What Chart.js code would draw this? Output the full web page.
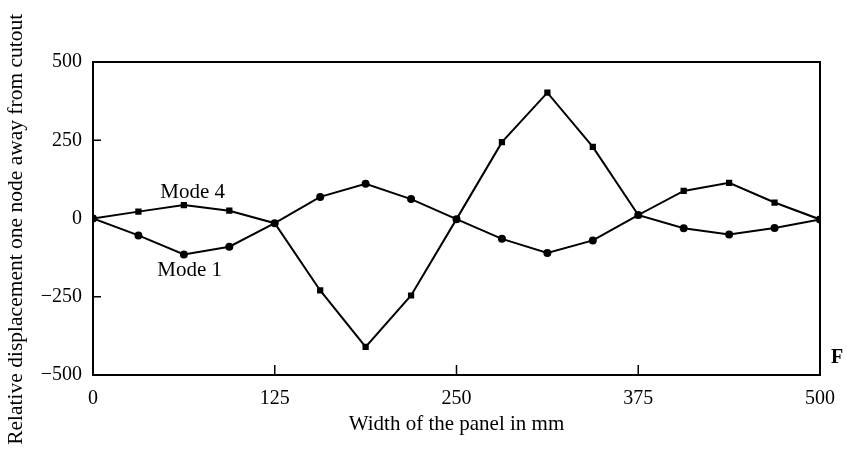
<!DOCTYPE html>
<html lang="en">
<head>
    <meta charset="UTF-8">
    <title>Relative displacement vs panel width</title>
    <script src="https://cdn.jsdelivr.net/npm/chart.js"></script>
    <style>
        body { margin: 0; background: #fff; }
        #wrap { width: 847px; height: 455px; }
    </style>
</head>
<body>
    <div id="wrap"><canvas id="modeChart" width="847" height="455"></canvas></div>

    <script>
        // positions across the panel width (mm)
        const widths = [0, 31.25, 62.5, 93.75, 125, 156.25, 187.5, 218.75, 250,
                        281.25, 312.5, 343.75, 375, 406.25, 437.5, 468.75, 500];
        const mode4 = [0, 22, 43, 25, -15, -230, -410, -246, -2, 244, 402, 229, 11, 88, 114, 51, -3];
        const mode1 = [0, -54, -115, -90, -15, 69, 111, 62, -2, -65, -110, -70, 11, -31, -51, -30, -3];

        const xTicks = [0, 125, 250, 375, 500];
        const yTicks = [500, 250, 0, -250, -500];

        // curve labels placed in data coordinates
        const curveLabels = [
            { text: 'Mode 4', x: 68.5, y: 83 },
            { text: 'Mode 1', x: 66.5, y: -165 }
        ];

        const serif = '"Liberation Serif", "DejaVu Serif", serif';

        const frameAndTicks = {
            id: 'frameAndTicks',
            afterDraw(chart) {
                const { ctx, chartArea: a, scales } = chart;
                ctx.save();
                ctx.strokeStyle = '#000';
                ctx.lineWidth = 2;
                ctx.strokeRect(a.left, a.top, a.right - a.left, a.bottom - a.top);

                // inward tick marks
                ctx.lineWidth = 1.5;
                ctx.beginPath();
                xTicks.slice(1, -1).forEach(v => {
                    const px = scales.x.getPixelForValue(v);
                    ctx.moveTo(px, a.bottom);
                    ctx.lineTo(px, a.bottom - 10);
                });
                yTicks.slice(1, -1).forEach(v => {
                    if (v === 0) return;
                    const py = scales.y.getPixelForValue(v);
                    ctx.moveTo(a.left, py);
                    ctx.lineTo(a.left + 8, py);
                });
                ctx.stroke();

                ctx.fillStyle = '#000';
                ctx.font = '21px ' + serif;
                ctx.textAlign = 'center';
                ctx.textBaseline = 'middle';
                curveLabels.forEach(l => {
                    ctx.fillText(l.text, scales.x.getPixelForValue(l.x), scales.y.getPixelForValue(l.y));
                });

                ctx.font = 'bold 20px ' + serif;
                ctx.textAlign = 'left';
                ctx.fillText('F', a.right + 11, scales.y.getPixelForValue(-445));
                ctx.restore();
            }
        };

        const ctx = document.getElementById('modeChart').getContext('2d');
        new Chart(ctx, {
            type: 'line',
            data: {
                datasets: [
                    {
                        label: 'Mode 4',
                        data: widths.map((w, i) => ({ x: w, y: mode4[i] })),
                        borderColor: '#000',
                        backgroundColor: '#000',
                        borderWidth: 2,
                        pointStyle: 'rect',
                        pointRadius: 3,
                        tension: 0
                    },
                    {
                        label: 'Mode 1',
                        data: widths.map((w, i) => ({ x: w, y: mode1[i] })),
                        borderColor: '#000',
                        backgroundColor: '#000',
                        borderWidth: 2,
                        pointStyle: 'circle',
                        pointRadius: 3,
                        tension: 0
                    }
                ]
            },
            options: {
                responsive: false,
                animation: false,
                layout: { padding: { top: 62, right: 26, left: 0, bottom: 18 } },
                plugins: {
                    legend: { display: false },
                    tooltip: { enabled: false }
                },
                scales: {
                    x: {
                        type: 'linear',
                        min: 0,
                        max: 500,
                        afterBuildTicks: s => { s.ticks = xTicks.map(v => ({ value: v })); },
                        afterFit: s => { s.height = 62; },
                        grid: { display: false, drawTicks: false },
                        border: { display: false },
                        ticks: { color: '#000', padding: 12, maxRotation: 0, font: { family: serif, size: 20 } },
                        title: {
                            display: true,
                            text: 'Width of the panel in mm',
                            color: '#000',
                            padding: { top: 4, bottom: 0 },
                            font: { family: serif, size: 21 }
                        }
                    },
                    y: {
                        min: -500,
                        max: 500,
                        afterBuildTicks: s => { s.ticks = yTicks.map(v => ({ value: v })); },
                        afterFit: s => { s.width = 93; },
                        grid: { display: false, drawTicks: false },
                        border: { display: false },
                        ticks: {
                            color: '#000',
                            padding: 11,
                            font: { family: serif, size: 20 },
                            callback: v => (v < 0 ? '\u2212' + Math.abs(v) : String(v))
                        },
                        title: {
                            display: true,
                            // trailing spaces nudge the rotated title down a little, like the original
                            text: 'Relative displacement one node away from cutout\u00a0\u00a0\u00a0\u00a0',
                            color: '#000',
                            padding: { top: 3, bottom: 0 },
                            font: { family: serif, size: 21.5 }
                        }
                    }
                }
            },
            plugins: [frameAndTicks]
        });
    </script>
</body>
</html>
